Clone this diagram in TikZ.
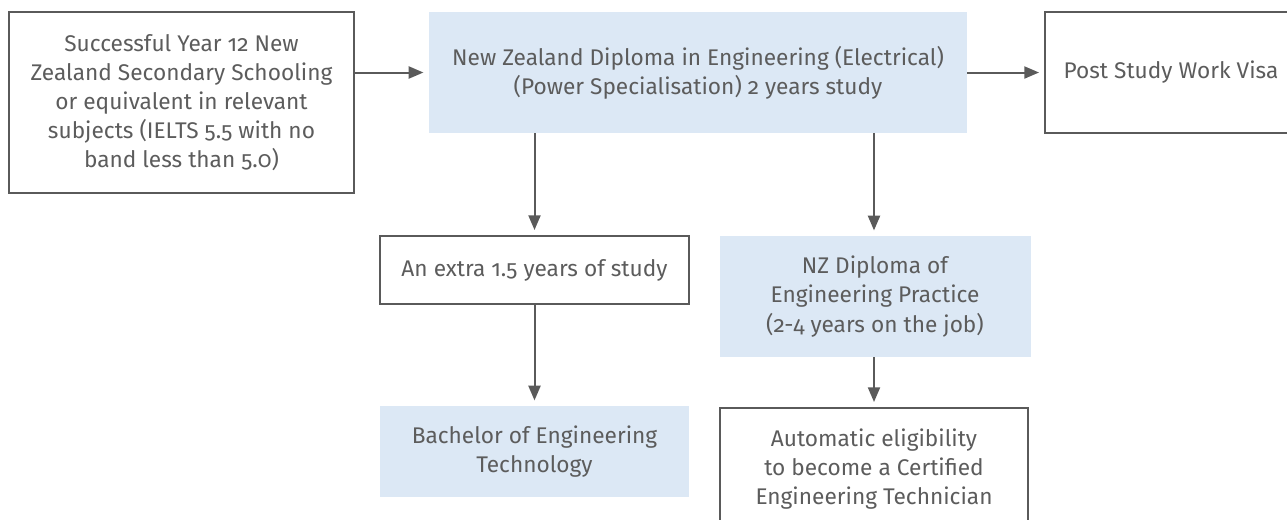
\documentclass[tikz,border=0pt]{standalone}
\usepackage{fontspec}
\setmainfont{Fira Sans}[Numbers=OldStyle]
\usetikzlibrary{arrows.meta}

\definecolor{boxline}{HTML}{5A5A5A}
\definecolor{paleblue}{HTML}{DCE8F5}
\definecolor{inktext}{HTML}{5C5C5C}

\tikzset{
  base/.style={text=inktext, align=center, inner sep=0pt,
    font=\fontsize{17}{21.8}\selectfont},
  whitebox/.style={base, draw=boxline, line width=1pt},
  bluebox/.style={base, fill=paleblue},
  flow/.style={draw=boxline, line width=1.5pt, shorten >=4pt,
    -{Triangle[length=11pt,width=9pt]}}
}

\begin{document}
\begin{tikzpicture}[x=0.75pt,y=-0.75pt]
  \useasboundingbox (0,0) rectangle (1287,519);

  % top row
  \node[whitebox, minimum width=258.75pt, minimum height=135.75pt] (school) at (181.5,102.5)
    {Successful Year 12 New\\Zealand Secondary Schooling\\or equivalent in relevant\\subjects (IELTS 5.5 with no\\band less than 5.0)};
  \node[bluebox, minimum width=403.5pt, minimum height=90.75pt] (diploma) at (698,72.5)
    {New Zealand Diploma in Engineering (Electrical)\\(Power Specialisation) 2 years study};
  \node[whitebox, minimum width=189pt, minimum height=90.75pt] (visa) at (1171,72.5)
    {Post Study Work Visa};

  % middle row
  \node[whitebox, minimum width=231.75pt, minimum height=51pt] (extra) at (534.5,270)
    {An extra 1.5 years of study};
  \node[bluebox, minimum width=233.25pt, minimum height=90.75pt] (practice) at (875,296.5)
    {NZ Diploma of\\Engineering Practice\\(2-4 years on the job)};

  % bottom row
  \node[bluebox, minimum width=231.75pt, minimum height=68.25pt] (bachelor) at (534.5,451.5)
    {Bachelor of Engineering\\Technology};
  \node[whitebox, minimum width=231pt, minimum height=91.5pt] (eligible) at (874,469)
    {Automatic eligibility\\to become a Certified\\Engineering Technician};

  % connectors
  \draw[flow] (school.east |- diploma.west) -- (diploma.west);
  \draw[flow] (diploma.east) -- (visa.west);
  \draw[flow] (extra.north |- diploma.south) -- (extra.north);
  \draw[flow] (eligible.north |- diploma.south) -- (eligible.north |- practice.north);
  \draw[flow] (extra.south) -- (bachelor.north);
  \draw[flow] (eligible.north |- practice.south) -- (eligible.north);
\end{tikzpicture}
\end{document}
